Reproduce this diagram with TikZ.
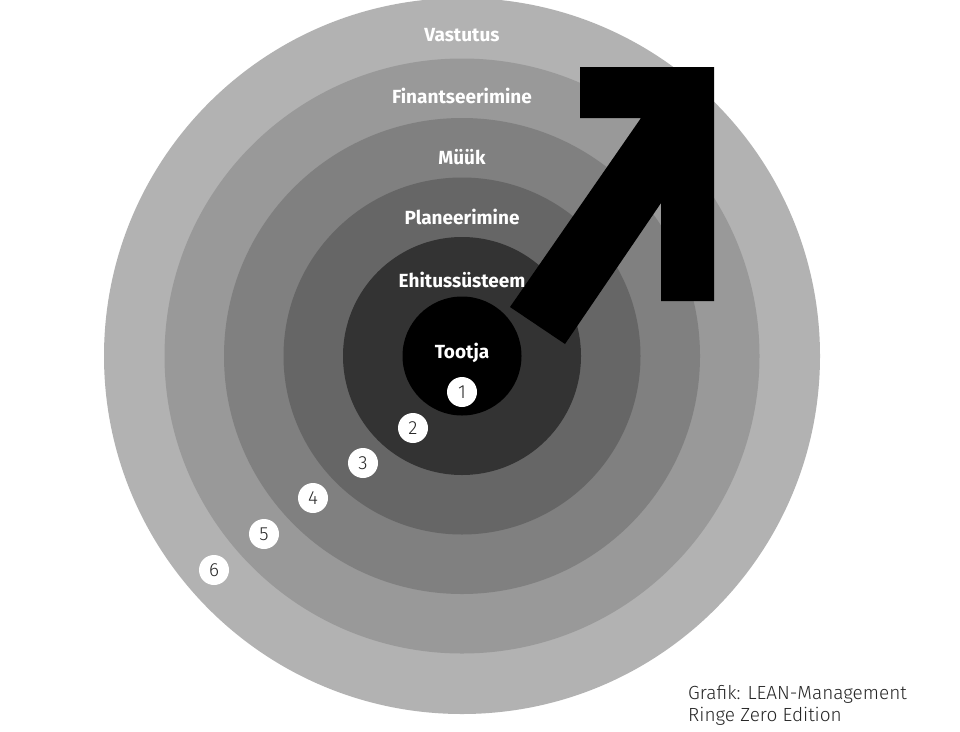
\documentclass[tikz,border=0pt]{standalone}
\usepackage{fontspec}
\setmainfont{Fira Sans}
\newfontfamily\lightfont{Fira Sans Light}
\begin{document}
\begin{tikzpicture}[x=1pt,y=-1pt,
  lbl/.style={text=white,font=\fontsize{19}{22}\selectfont\bfseries},
  num/.style={circle,fill=white,minimum size=30pt,inner sep=0pt,font=\lightfont\fontsize{19}{22}\selectfont,text=black!85}]
\useasboundingbox (0,0) rectangle (960,731);
\fill[white] (0,0) rectangle (960,731);
\coordinate (c) at (462,356);
\fill[black!30] (c) circle (358);
\fill[black!40] (c) circle (297.5);
\fill[black!50] (c) circle (238);
\fill[black!60] (c) circle (178.5);
\fill[black!80] (c) circle (119);
\fill[black] (c) circle (59.5);
\fill[black] (580,67) -- (714,67) -- (714,301) -- (661,301) -- (661,203) -- (565,344) -- (510,307) -- (641,118) -- (580,118) -- cycle;
\node[lbl] (l6) at (462,35) {Vastutus};
\node[lbl] (l5) at (462,96) {Finantseerimine};
\node[lbl] (l4) at (462,157) {Müük};
\node[lbl] (l3) at (462,217) {Planeerimine};
\node[lbl] (l2) at (462,280) {Ehitussüsteem};
\node[lbl] (l1) at (462,353) {Tootja};
\node[num] (n1) at (462,392) {1};
\node[num] (n2) at (413,428) {2};
\node[num] (n3) at (363,463) {3};
\node[num] (n4) at (313,498) {4};
\node[num] (n5) at (264,534) {5};
\node[num] (n6) at (214,570) {6};
\node[anchor=north west,align=left,inner sep=0pt,font=\lightfont\fontsize{19}{22}\selectfont,text=black!85] (cr) at (688,685) {Grafik: LEAN-Management\\Ringe Zero Edition};
\end{tikzpicture}
\end{document}
